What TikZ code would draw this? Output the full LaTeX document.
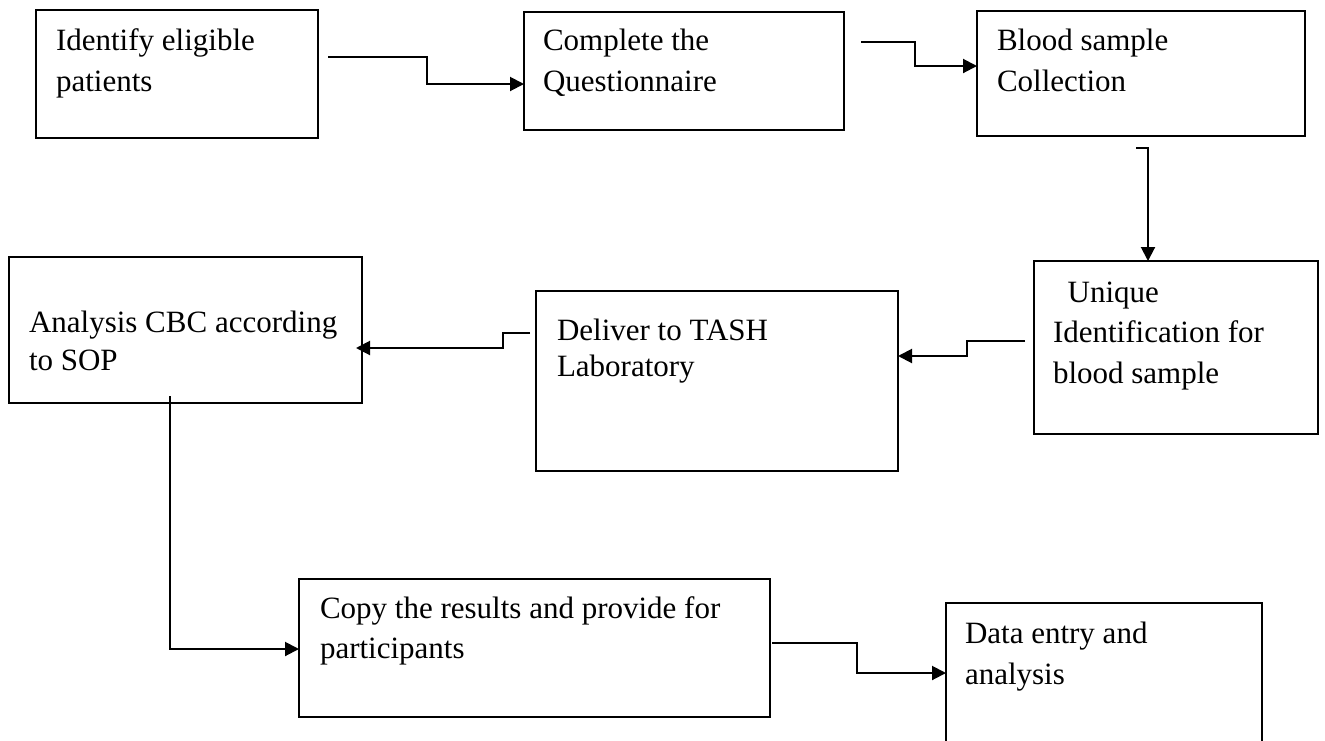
\documentclass[tikz,border=0pt]{standalone}
\usepackage{fontspec}
\setmainfont{Liberation Serif}
\usetikzlibrary{arrows.meta,calc}
\newcommand\mylines[2]{\renewcommand\arraystretch{#1}\begin{tabular}[t]{@{}l@{}}#2\end{tabular}}
\begin{document}
\begin{tikzpicture}[x=0.75pt,y=-0.75pt,
  box/.style={draw, line width=1.4pt, inner sep=0pt, outer sep=0pt, anchor=north west},
  txt/.style={inner sep=0pt, outer sep=0pt, anchor=base west, font=\fontsize{23.25}{30.75}\selectfont},
  arr/.style={line width=1.5pt, -{Triangle[length=10.5pt,width=10.5pt]}}]
\useasboundingbox (0,0) rectangle (1325,740);
\clip (0,0) rectangle (1325,740);
% boxes
\node[box, minimum width=282*0.75pt, minimum height=128*0.75pt] (b1) at (36,10) {};
\node[box, minimum width=320*0.75pt, minimum height=118*0.75pt] (b2) at (524,12) {};
\node[box, minimum width=328*0.75pt, minimum height=125*0.75pt] (b3) at (977,11) {};
\node[box, minimum width=284*0.75pt, minimum height=173*0.75pt] (b4) at (1034,261) {};
\node[box, minimum width=362*0.75pt, minimum height=180*0.75pt] (b5) at (536,291) {};
\node[box, minimum width=353*0.75pt, minimum height=146*0.75pt] (b6) at (9,257) {};
\node[box, minimum width=471*0.75pt, minimum height=138*0.75pt] (b7) at (299,579) {};
\node[box, minimum width=316*0.75pt, minimum height=157*0.75pt] (b8) at (946,603) {};
% texts
\node[txt] (t1) at (56,50) {\mylines{1}{Identify eligible\\patients}};
\node[txt] (t2) at (543,50) {\mylines{1}{Complete the\\Questionnaire}};
\node[txt] (t3) at (997,50) {\mylines{1}{Blood sample\\Collection}};
\node[txt] (t4) at (1053,302) {\mylines{0.99}{\hspace*{11pt}Unique\\Identification for\\blood sample}};
\node[txt] (t5) at (557,340) {\mylines{0.9}{Deliver to TASH\\Laboratory}};
\node[txt] (t6) at (29,332) {\mylines{0.93}{Analysis CBC according\\to SOP}};
\node[txt] (t7) at (320,618) {\mylines{0.98}{Copy the results and provide for\\participants}};
\node[txt] (t8) at (965,643) {\mylines{1.02}{Data entry and\\analysis}};
% connectors
\draw[arr] ($(b1.north east)+(10,47)$) -- ++(99,0) |- ($(b2.north west)+(0,72)$);
\draw[arr] ($(b2.north east)+(17,30)$) -- ++(54,0) |- ($(b3.north west)+(0,55)$);
\draw[arr] ($(b3.south)+(-5,12)$) -- ++(12,0) -- ($(b4.north west)+(114,0)$);
\draw[arr] ($(b4.north west)+(-9,80)$) -- ++(-58,0) |- ($(b5.north east)+(0,65)$);
\draw[arr] ($(b5.north west)+(-6,42)$) -- ++(-27,0) |- ($(b6.north east)+(-6,91)$);
\draw[arr] ($(b6.south west)+(161,-7)$) |- ($(b7.north west)+(0,70)$);
\draw[arr] ($(b7.north east)+(2,64)$) -- ++(85,0) |- ($(b8.north west)+(0,70)$);
\end{tikzpicture}
\end{document}
